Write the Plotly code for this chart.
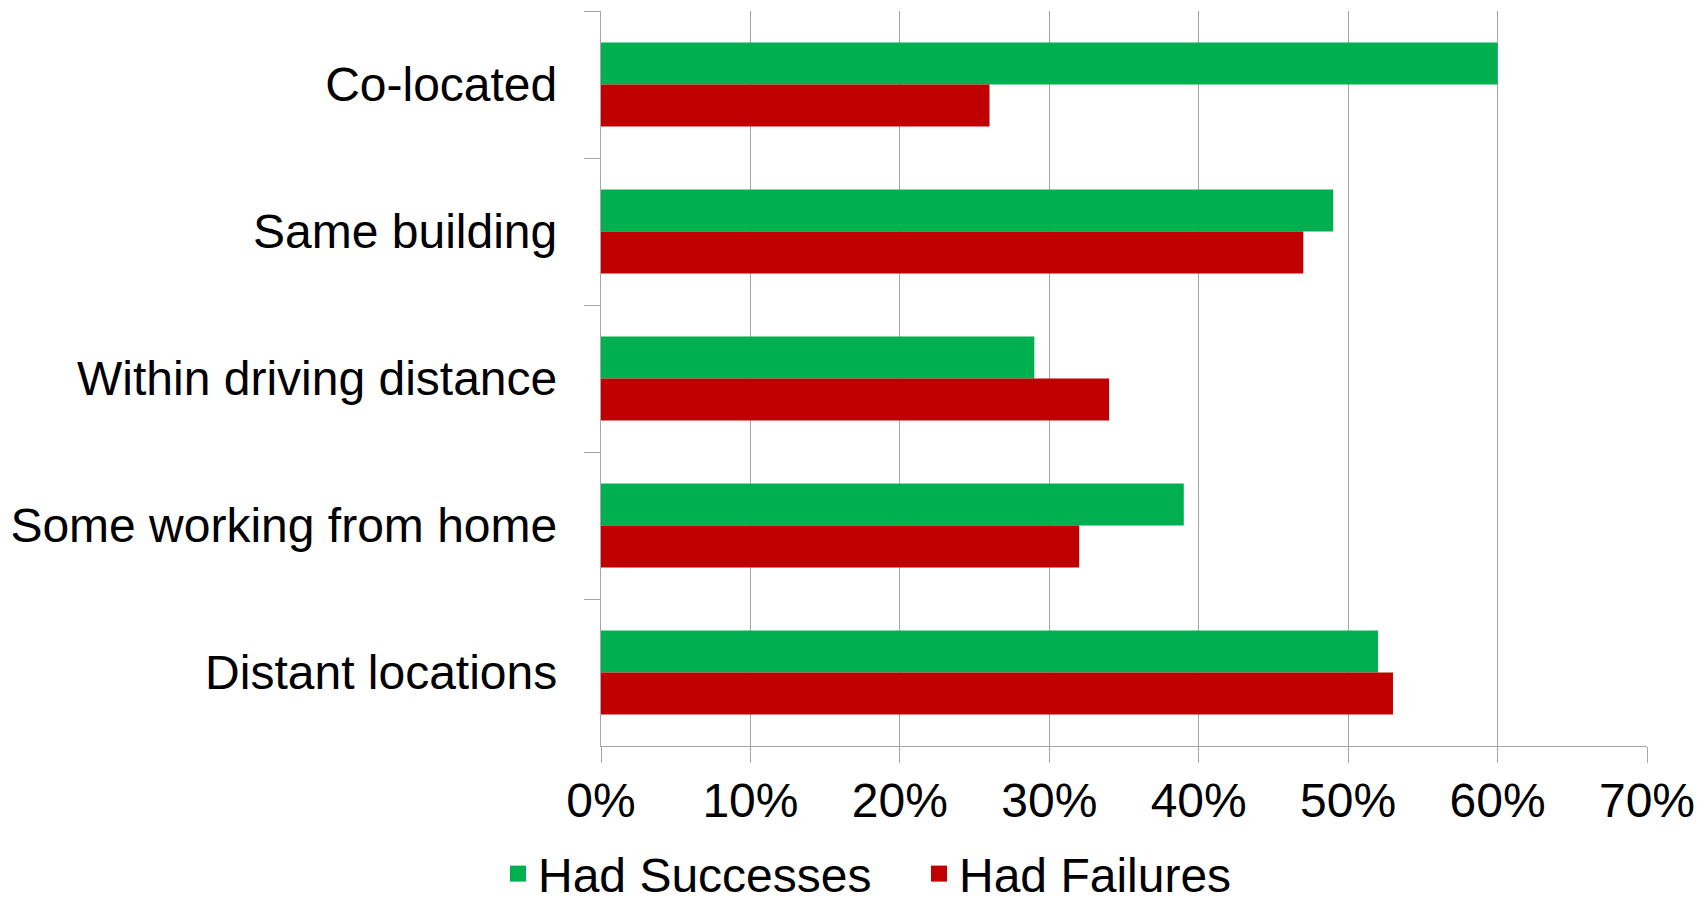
import plotly.graph_objects as go

categories = [
    "Co-located",
    "Same building",
    "Within driving distance",
    "Some working from home",
    "Distant locations",
]
had_successes = [0.60, 0.49, 0.29, 0.39, 0.52]
had_failures = [0.26, 0.47, 0.34, 0.32, 0.53]
x_ticks = [0, 0.1, 0.2, 0.3, 0.4, 0.5, 0.6, 0.7]

GREEN = "#00b050"
RED = "#c00000"
AXIS_GRAY = "#a6a6a6"
FONT = "Liberation Sans, Arial, sans-serif"

fig = go.Figure()
for name, values, color in [
    ("Had Successes", had_successes, GREEN),
    ("Had Failures", had_failures, RED),
]:
    fig.add_trace(go.Bar(
        y=categories, x=values, orientation="h",
        name=name, showlegend=False, legendgroup=name,
        marker=dict(color=color, line=dict(width=0)),
    ))

# legend swatches: square markers are drawn bigger than the bar legend icon
for name, color in [("Had Successes", GREEN), ("Had Failures", RED)]:
    fig.add_trace(go.Scatter(
        x=[None], y=[None], mode="markers", name=name, legendgroup=name,
        marker=dict(symbol="square", size=22, color=color),
    ))

fig.update_layout(
    width=1705,
    height=900,
    barmode="group",
    bargap=0.43,
    bargroupgap=0,
    paper_bgcolor="white",
    plot_bgcolor="white",
    margin=dict(l=601, r=58, t=11, b=154),
    font=dict(family=FONT, size=48, color="black"),
    legend=dict(
        orientation="h",
        xref="container", yref="container",
        x=0.539, xanchor="center",
        y=0.029, yanchor="middle",
        font=dict(size=48),
        itemwidth=30,
        entrywidth=376,
        traceorder="normal",
    ),
)

fig.update_xaxes(
    range=[0, 0.7],
    tickvals=x_ticks,
    tickformat=".0%",
    showgrid=True,
    gridcolor=AXIS_GRAY,
    gridwidth=1.3,
    showline=True,
    linecolor=AXIS_GRAY,
    linewidth=1.3,
    ticks="outside",
    ticklen=16,
    tickcolor=AXIS_GRAY,
    tickwidth=1.3,
    ticklabelstandoff=-4,
    zeroline=False,
    automargin=False,
)
fig.update_yaxes(
    autorange="reversed",
    type="category",
    showgrid=False,
    showline=True,
    linecolor=AXIS_GRAY,
    linewidth=1.3,
    ticks="outside",
    tickson="boundaries",
    ticklen=16,
    tickcolor=AXIS_GRAY,
    tickwidth=1.3,
    ticklabelstandoff=33,
    automargin=False,
)

fig.write_html(
    "out.html",
    config={"displayModeBar": False},
    post_script="document.body.style.margin='0';",
)
